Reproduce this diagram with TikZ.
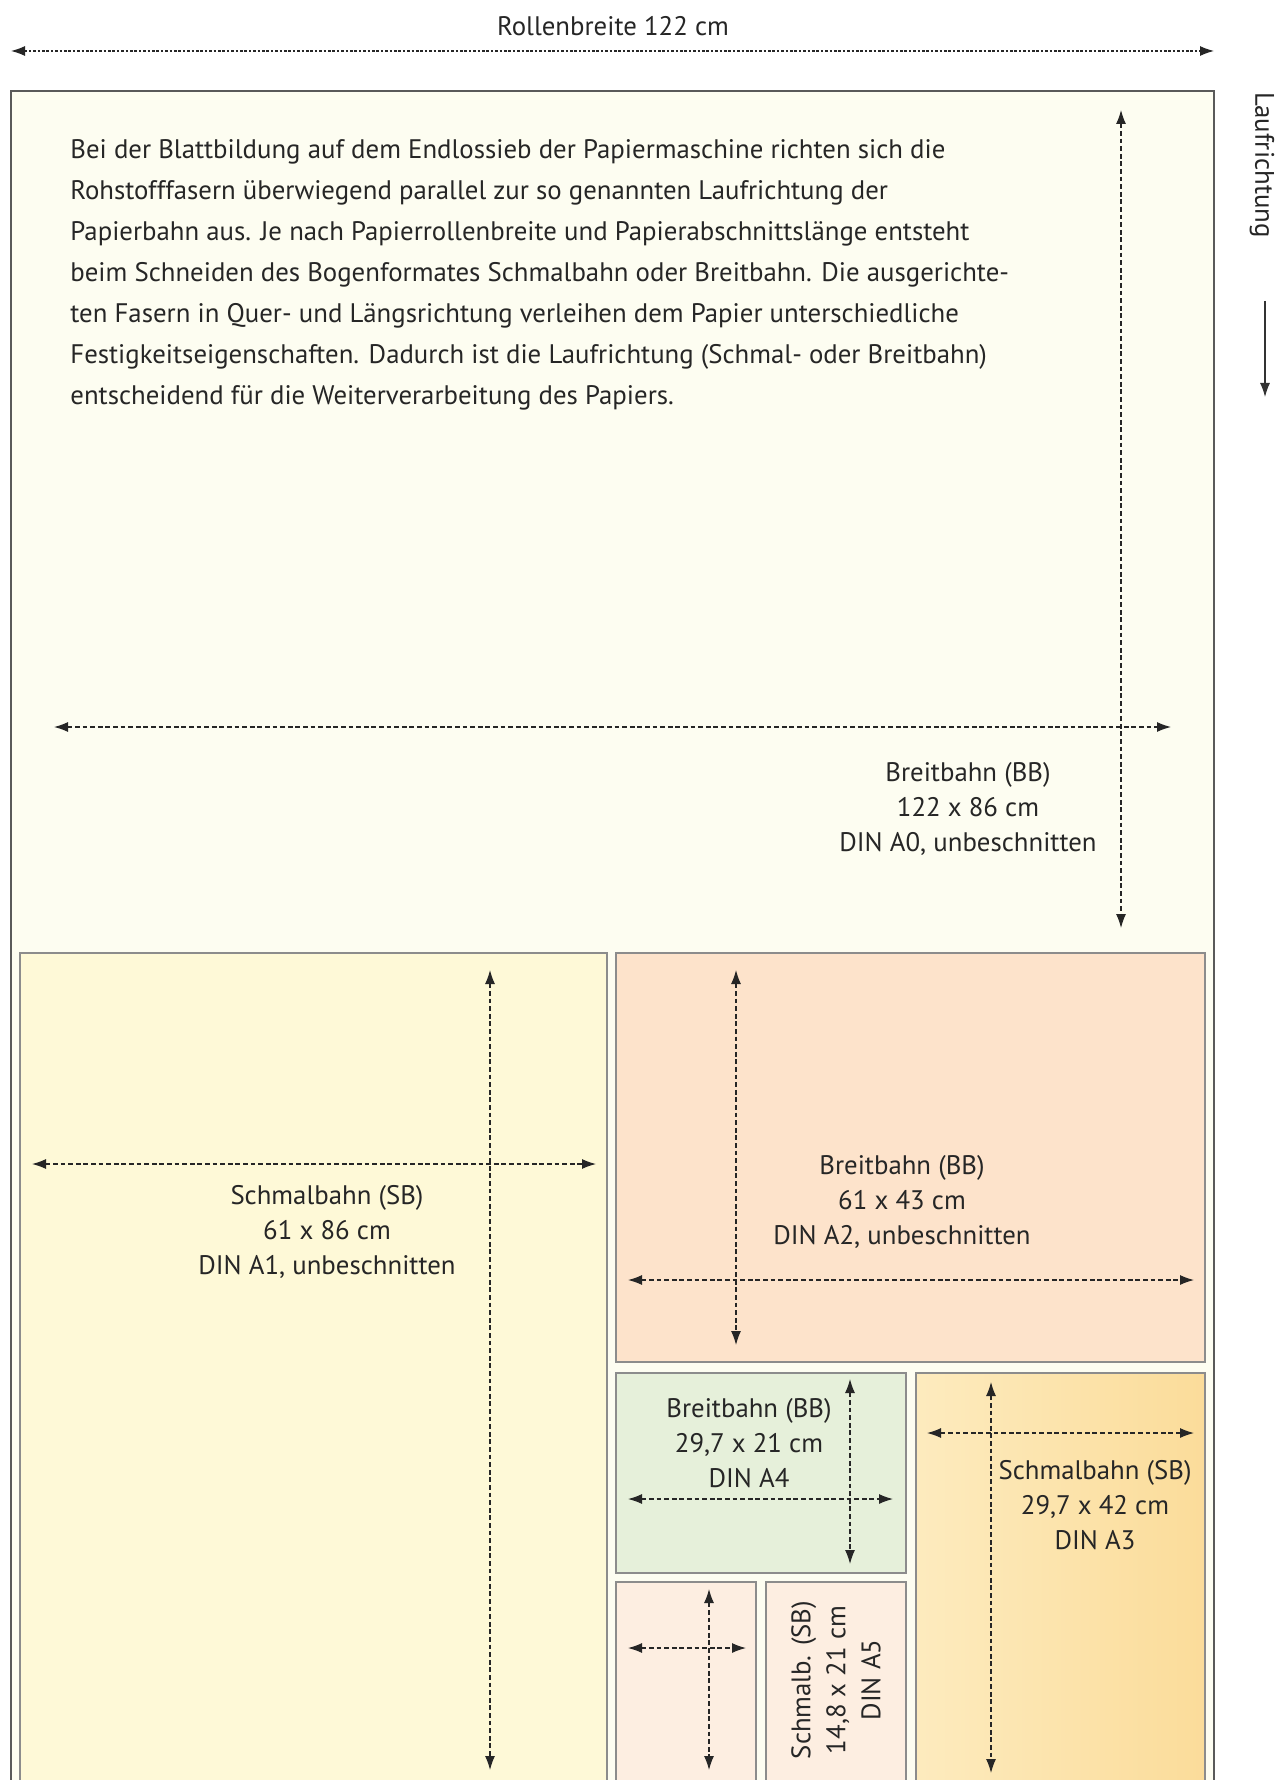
\documentclass[tikz,border=0pt]{standalone}
\usepackage{fontspec}
\setmainfont{PT Sans}
\usetikzlibrary{arrows.meta}
\definecolor{sheetcol}{HTML}{FDFDF1}
\definecolor{aonecol}{HTML}{FEF9D7}
\definecolor{atwocol}{HTML}{FDE3CB}
\definecolor{afourcol}{HTML}{E6F0DA}
\definecolor{athreelight}{HTML}{FDEBBE}
\definecolor{athreedark}{HTML}{FBDC9A}
\definecolor{afivecol}{HTML}{FDEEE1}
\definecolor{linecol}{HTML}{5A5A5A}
\definecolor{boxline}{HTML}{8C8C8C}
\tikzset{
  sheet/.style={draw=linecol, line width=0.7pt, fill=sheetcol},
  fmt/.style={draw=boxline, line width=0.6pt},
  dimarrow/.style={{Latex[length=7pt,width=5pt]}-{Latex[length=7pt,width=5pt]},
                   line width=0.6pt, dash pattern=on 2.4pt off 1.4pt, color=black!85},
  lbl/.style={align=center, inner sep=0pt, text=black!85,
              font=\fontsize{13.4}{17.5}\selectfont},
  para/.style={align=left, inner sep=0pt, anchor=north west, text=black!85,
               font=\fontsize{13.4}{20.5}\selectfont}
}
\begin{document}
\begin{tikzpicture}[x=0.5pt, y=-0.5pt]
  \clip (0,0) rectangle (1280,1780);
  \fill[white] (0,0) rectangle (1280,1780);
  % roll width
  \node[lbl] (rolle) at (613,26) {Rollenbreite 122 cm};
  \draw[dimarrow, dash pattern=on 1.3pt off 0.9pt] (11,51) -- (1214,51);
  % running direction
  \node[lbl, rotate=-90] (lauf) at (1262,165) {Laufrichtung};
  \draw[-{Latex[length=7pt,width=5pt]}, line width=0.6pt, color=black!80] (1265,301) -- (1265,397);
  % A0 sheet
  \draw[sheet] (11,91) rectangle (1214,1800);
  \node[para] (text) at (70,139) {Bei der Blattbildung auf dem Endlossieb der Papiermaschine richten sich die\\
    Rohstofffasern überwiegend parallel zur so genannten Laufrichtung der\\
    Papierbahn aus. Je nach Papierrollenbreite und Papierabschnittslänge entsteht\\
    beim Schneiden des Bogenformates Schmalbahn oder Breitbahn. Die ausgerichte-\\
    ten Fasern in Quer- und Längsrichtung verleihen dem Papier unterschiedliche\\
    Festigkeitseigenschaften. Dadurch ist die Laufrichtung (Schmal- oder Breitbahn)\\
    entscheidend für die Weiterverarbeitung des Papiers.};
  \draw[dimarrow] (1121,110) -- (1121,928);
  \draw[dimarrow] (54,727) -- (1171,727);
  \node[lbl] (azero) at (968,809) {Breitbahn (BB)\\122 x 86 cm\\DIN A0, unbeschnitten};
  % A1
  \draw[fmt, fill=aonecol] (20,953) rectangle (607,1800);
  \draw[dimarrow] (490,970) -- (490,1770);
  \draw[dimarrow] (32,1164) -- (596,1164);
  \node[lbl] (aone) at (327,1232) {Schmalbahn (SB)\\61 x 86 cm\\DIN A1, unbeschnitten};
  % A2
  \draw[fmt, fill=atwocol] (616,953) rectangle (1205,1362);
  \draw[dimarrow] (736,970) -- (736,1345);
  \draw[dimarrow] (628,1280) -- (1194,1280);
  \node[lbl] (atwo) at (902,1202) {Breitbahn (BB)\\61 x 43 cm\\DIN A2, unbeschnitten};
  % A4
  \draw[fmt, fill=afourcol] (616,1373) rectangle (906,1573);
  \draw[dimarrow] (850,1379) -- (850,1564);
  \draw[dimarrow] (628,1499) -- (893,1499);
  \node[lbl] (afour) at (749,1443) {Breitbahn (BB)\\29,7 x 21 cm\\DIN A4};
  % A3
  \draw[fmt, left color=athreelight, right color=athreedark] (916,1373) rectangle (1205,1800);
  \draw[dimarrow] (991,1382) -- (991,1773);
  \draw[dimarrow] (927,1433) -- (1194,1433);
  \node[lbl] (athree) at (1095,1505) {Schmalbahn (SB)\\29,7 x 42 cm\\DIN A3};
  % A6
  \draw[fmt, fill=afivecol] (616,1582) rectangle (756,1800);
  \draw[dimarrow] (709,1589) -- (709,1770);
  \draw[dimarrow] (628,1648) -- (746,1648);
  % A5
  \draw[fmt, fill=afivecol] (766,1582) rectangle (906,1800);
  \node[lbl, rotate=90] (afive) at (836,1680) {Schmalb. (SB)\\14,8 x 21 cm\\DIN A5};
\end{tikzpicture}
\end{document}
